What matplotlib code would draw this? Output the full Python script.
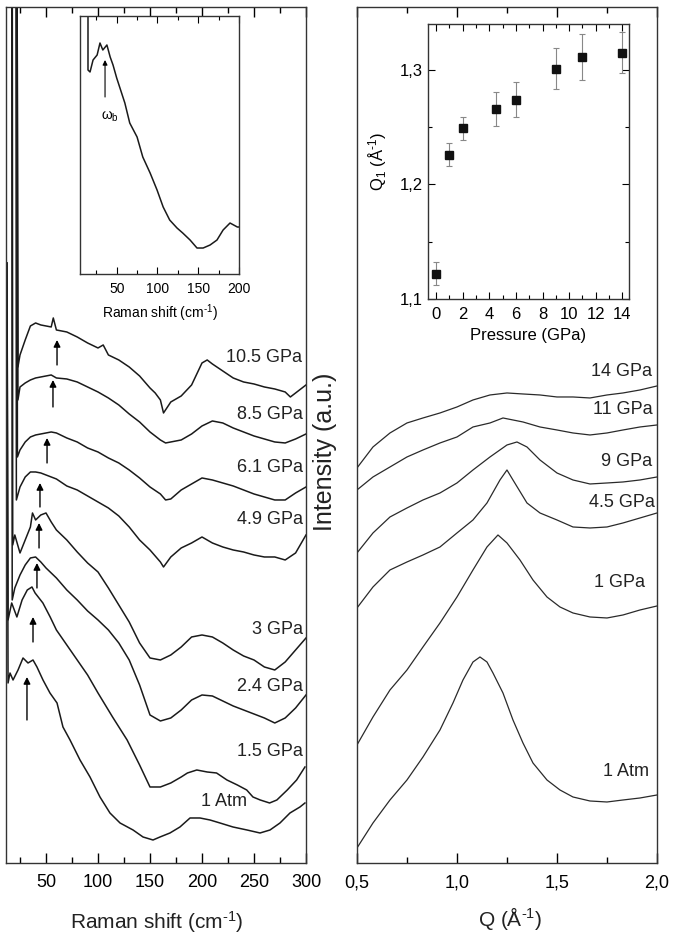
import matplotlib
matplotlib.use('Agg')
import matplotlib.pyplot as plt
from matplotlib.ticker import MultipleLocator, FuncFormatter

plt.rcParams['font.family'] = ['Liberation Sans', 'DejaVu Sans']
plt.rcParams['mathtext.fontset'] = 'custom'
plt.rcParams['mathtext.rm'] = 'Liberation Sans'
plt.rcParams['mathtext.it'] = 'Liberation Sans:italic'
plt.rcParams['mathtext.default'] = 'regular'

# ---- Raman spectra (stacked, intensity in a.u.) ----
r105_x = [22, 23, 25, 30, 35, 40, 45, 50, 55, 57, 60, 70, 80, 90, 100, 105, 110, 120, 130, 140,
          150, 155, 160, 163, 170, 180, 190, 200, 205, 210, 220, 230, 240, 250, 260, 270, 280, 285, 290, 300]
r105_y = [1000, 496, 508, 523, 537, 540, 538, 537, 536, 545, 533, 531, 526, 520, 515, 518, 508, 503, 496, 487,
          475, 470, 463, 450, 461, 467, 478, 500, 503, 499, 492, 485, 481, 479, 476, 474, 471, 466, 470, 478]

r85_x = [22, 23, 25, 30, 35, 40, 45, 50, 55, 60, 70, 80, 90, 100, 110, 120, 130, 140, 150, 160,
         165, 170, 180, 190, 200, 210, 220, 230, 240, 250, 260, 270, 280, 290, 300]
r85_y = [1000, 463, 476, 480, 483, 485, 486, 487, 488, 485, 484, 481, 476, 471, 465, 458, 449, 441, 431, 423,
         420, 421, 423, 429, 437, 442, 440, 435, 431, 427, 424, 421, 420, 424, 429]

r61_x = [22, 22.5, 25, 30, 35, 40, 45, 50, 55, 60, 70, 80, 90, 100, 110, 120, 130, 140, 150, 160,
         165, 170, 180, 190, 200, 210, 220, 230, 240, 250, 260, 270, 280, 290, 300]
r61_y = [1000, 406, 413, 421, 426, 428, 429, 430, 431, 430, 425, 421, 415, 411, 405, 400, 393, 385, 376, 369,
         363, 364, 373, 379, 385, 383, 380, 377, 373, 369, 366, 363, 363, 370, 376]

r49_x = [21, 21.5, 25, 30, 35, 40, 45, 50, 60, 70, 80, 90, 100, 110, 120, 130, 140, 150, 160, 163,
         170, 180, 190, 200, 210, 220, 230, 240, 250, 260, 270, 280, 290, 300]
r49_y = [1000, 363, 376, 386, 391, 391, 390, 388, 384, 377, 373, 367, 361, 355, 347, 336, 323, 313, 301, 296,
         306, 315, 320, 326, 320, 316, 313, 311, 308, 306, 306, 303, 310, 328]

r30_x = [17.5, 18, 20, 25, 30, 35, 37, 40, 45, 50, 55, 60, 70, 80, 90, 100, 110, 120, 130, 140,
         150, 160, 170, 180, 190, 200, 210, 220, 230, 240, 250, 260, 270, 280, 290, 300]
r30_y = [1000, 318, 328, 310, 323, 336, 350, 343, 348, 350, 341, 333, 323, 311, 300, 291, 275, 258, 241, 220,
         205, 203, 208, 216, 226, 228, 226, 220, 213, 207, 203, 196, 193, 201, 213, 225]

r24_x = [17, 17.5, 20, 25, 30, 35, 40, 45, 50, 60, 70, 80, 90, 100, 110, 120, 130, 140, 150, 160,
         170, 180, 190, 200, 210, 220, 230, 240, 250, 260, 270, 280, 290, 300]
r24_y = [1000, 263, 275, 288, 298, 305, 306, 301, 295, 285, 273, 263, 252, 243, 233, 220, 203, 178, 148, 142,
         145, 153, 163, 168, 167, 162, 157, 153, 149, 145, 140, 145, 155, 168]

r15_x = [12.5, 13.5, 17, 22, 27, 32, 36.5, 39.5, 47, 54, 60, 70, 80, 90, 100, 114, 128, 140, 150, 160,
         170, 180, 186, 195, 205, 214, 224, 234, 243, 249, 256, 265, 272, 282, 291, 299]
r15_y = [600, 243, 260, 246, 263, 273, 276, 270, 260, 246, 233, 218, 203, 188, 170, 146, 123, 98, 76, 76,
         80, 86, 90, 93, 91, 90, 83, 78, 73, 66, 63, 60, 63, 73, 83, 96]

r1atm_x = [12.5, 13.5, 15.4, 18.3, 23.1, 27.9, 32.7, 37.5, 41.3, 47.1, 53.8, 60.6, 66.3, 73.1, 82.7, 92.3,
           101.9, 111.5, 121.2, 133.7, 143.3, 152.9, 159.6, 169.2, 178.8, 188.5, 198.1, 207.7, 217.3,
           229.8, 243.3, 255.8, 265.4, 275, 284.6, 294.2, 299]
r1atm_y = [600, 180, 190, 183, 193, 205, 200, 203, 196, 183, 170, 160, 136, 123, 103, 86,
           66, 50, 40, 33, 26, 23, 26, 30, 36, 45, 45, 43, 40,
           36, 33, 30, 33, 40, 50, 56, 60]

raman_labels = ['10.5 GPa', '8.5 GPa', '6.1 GPa', '4.9 GPa', '3 GPa', '2.4 GPa', '1.5 GPa', '1 Atm']
raman_label_x = [296, 297, 297, 297, 297, 297, 297, 221]
raman_label_y = [505, 448, 395, 343, 233, 176, 111, 61]

# boson peak arrows (position, head, tail)
arrow_x = [60.6, 56.7, 51, 44.2, 43.3, 41.3, 37.5, 31.7]
arrow_head = [523, 483, 425, 380, 340, 300, 246, 186]
arrow_tail = [498, 456, 400, 356, 315, 275, 221, 143]

# ---- inset: 1 Atm low-frequency spectrum ----
ins_x = [14.8, 14.8, 17.3, 21, 26, 29.5, 33, 38, 42, 45.5, 50, 54, 60, 66, 75, 82, 91, 99.5, 107, 115,
         124, 131, 140, 148.5, 156, 164.5, 173, 180.5, 189, 198, 200]
ins_y = [300, 204, 202, 214, 219, 231, 224, 229, 217, 209, 196, 186, 171, 151, 137, 117, 101, 84, 67, 54,
         46, 41, 34, 26, 26, 29, 34, 44, 51, 47, 47]

# ---- X-ray structure factors ----
s1atm_q = [0.5, 0.58, 0.665, 0.75, 0.83, 0.915, 0.98, 1.03, 1.08, 1.115, 1.15, 1.18, 1.23, 1.28,
           1.33, 1.38, 1.45, 1.515, 1.58, 1.665, 1.75, 1.83, 1.915, 2.0]
s1atm_y = [15, 40, 63, 83, 106, 133, 160, 183, 201, 206, 201, 190, 170, 143,
           120, 100, 83, 73, 66, 62, 61, 63, 65, 68]

s1_q = [0.5, 0.58, 0.665, 0.75, 0.83, 0.915, 1.0, 1.08, 1.15, 1.205, 1.25, 1.315, 1.38, 1.45,
        1.515, 1.58, 1.665, 1.75, 1.83, 1.915, 2.0]
s1_y = [118, 146, 173, 193, 216, 240, 266, 293, 316, 328, 320, 303, 283, 266,
        256, 250, 246, 245, 248, 253, 257]

s45_q = [0.5, 0.58, 0.665, 0.75, 0.83, 0.915, 1.0, 1.08, 1.15, 1.215, 1.25, 1.28, 1.35, 1.415,
         1.5, 1.58, 1.665, 1.75, 1.83, 1.915, 2.0]
s45_y = [255, 276, 293, 301, 308, 316, 330, 343, 360, 383, 393, 383, 360, 350,
         343, 336, 335, 336, 340, 345, 350]

s9_q = [0.5, 0.58, 0.665, 0.75, 0.83, 0.915, 1.0, 1.08, 1.165, 1.25, 1.3, 1.35, 1.415, 1.5,
        1.58, 1.665, 1.75, 1.83, 1.915, 2.0]
s9_y = [310, 330, 346, 355, 363, 370, 380, 393, 406, 418, 421, 416, 403, 390,
        383, 379, 380, 381, 383, 386]

s11_q = [0.5, 0.58, 0.665, 0.75, 0.83, 0.915, 1.0, 1.08, 1.165, 1.23, 1.33, 1.415, 1.5, 1.58,
         1.665, 1.75, 1.83, 1.915, 2.0]
s11_y = [373, 386, 396, 406, 413, 420, 426, 436, 440, 445, 441, 436, 433, 430,
         428, 430, 433, 436, 438]

s14_q = [0.5, 0.58, 0.665, 0.75, 0.83, 0.915, 1.0, 1.08, 1.165, 1.25, 1.33, 1.415, 1.5, 1.58,
         1.665, 1.75, 1.83, 1.915, 2.0]
s14_y = [395, 416, 430, 440, 445, 450, 456, 463, 468, 470, 469, 468, 466, 466,
         465, 468, 470, 473, 477]

sq_labels = ['14 GPa', '11 GPa', '9 GPa', '4.5 GPa', '1 GPa', '1 Atm']
sq_label_x = [1.975, 1.98, 1.975, 1.99, 1.94, 1.96]
sq_label_y = [491, 453, 401, 360, 280, 91]

# ---- inset: first sharp diffraction peak position vs pressure ----
pressure = [0, 1, 2, 4.5, 6, 9, 11, 14]
q1 = [1.122, 1.226, 1.249, 1.266, 1.274, 1.301, 1.311, 1.315]
q1_err = [0.010, 0.010, 0.010, 0.015, 0.015, 0.018, 0.020, 0.018]

comma = FuncFormatter(lambda v, p: f'{v:.1f}'.replace('.', ','))
inv = r'$^{\text{-1}}$'

fig = plt.figure(figsize=(6.78, 9.41), dpi=100)

# left panel: Raman
ax1 = fig.add_axes([0.0088, 0.0829, 0.4425, 0.9097])
raman_x = [r105_x, r85_x, r61_x, r49_x, r30_x, r24_x, r15_x, r1atm_x]
raman_y = [r105_y, r85_y, r61_y, r49_y, r30_y, r24_y, r15_y, r1atm_y]
for xs, ys in zip(raman_x, raman_y):
    ax1.plot(xs, ys, color='#1a1a1a', lw=1.1)
for lab, lx, ly in zip(raman_labels, raman_label_x, raman_label_y):
    ax1.text(lx, ly, lab, ha='right' if lab != '1 Atm' else 'center', va='center', fontsize=13, color='#222')
for x, h, t in zip(arrow_x, arrow_head, arrow_tail):
    ax1.annotate('', xy=(x, h), xytext=(x, t),
                 arrowprops=dict(arrowstyle='-|>', color='k', lw=1, mutation_scale=10, shrinkA=0, shrinkB=0))
ax1.set_xlim(11.5, 300)
ax1.set_ylim(0, 856)
ax1.set_yticks([])
ax1.xaxis.set_major_locator(MultipleLocator(50))
ax1.xaxis.set_minor_locator(MultipleLocator(25))
ax1.tick_params(axis='x', which='both', direction='in', top=True, labelsize=13, pad=8, width=1)
ax1.tick_params(axis='x', which='major', length=7)
ax1.tick_params(axis='x', which='minor', length=4)
fig.text(0.231, 0.020, 'Raman shift (cm' + inv + ')', ha='center', va='center', fontsize=15, color='#222')

# left inset
ax1i = fig.add_axes([0.118, 0.7088, 0.2345, 0.2742])
ax1i.plot(ins_x, ins_y, color='#1a1a1a', lw=1.1)
ax1i.annotate('', xy=(35.7, 214), xytext=(35.7, 177),
              arrowprops=dict(arrowstyle='-|>', color='k', lw=0.8, mutation_scale=7, shrinkA=0, shrinkB=0))
ax1i.text(41.8, 157, r'$\omega_b$', ha='center', va='center', fontsize=10)
ax1i.set_xlim(5, 200)
ax1i.set_ylim(0, 258)
ax1i.set_yticks([])
ax1i.xaxis.set_major_locator(MultipleLocator(50))
ax1i.xaxis.set_minor_locator(MultipleLocator(25))
ax1i.tick_params(axis='x', which='both', direction='in', top=True, labelsize=10, pad=6, width=0.8)
ax1i.tick_params(axis='x', which='major', length=5)
ax1i.tick_params(axis='x', which='minor', length=3)
ax1i.set_xlabel('Raman shift (cm' + inv + ')', fontsize=10, labelpad=4)

# right panel: S(Q)
ax2 = fig.add_axes([0.5265, 0.0829, 0.4425, 0.9097])
sq_q = [s14_q, s11_q, s9_q, s45_q, s1_q, s1atm_q]
sq_y = [s14_y, s11_y, s9_y, s45_y, s1_y, s1atm_y]
for qs, ys in zip(sq_q, sq_y):
    ax2.plot(qs, ys, color='#2a2a2a', lw=0.9)
for lab, lx, ly in zip(sq_labels, sq_label_x, sq_label_y):
    ax2.text(lx, ly, lab, ha='right', va='center', fontsize=13, color='#222')
ax2.set_xlim(0.5, 2.0)
ax2.set_ylim(0, 856)
ax2.set_yticks([])
ax2.xaxis.set_major_locator(MultipleLocator(0.5))
ax2.xaxis.set_minor_locator(MultipleLocator(0.25))
ax2.xaxis.set_major_formatter(comma)
ax2.tick_params(axis='x', which='both', direction='in', top=True, labelsize=13, pad=8, width=1)
ax2.tick_params(axis='x', which='major', length=7)
ax2.tick_params(axis='x', which='minor', length=4)
fig.text(0.752, 0.024, 'Q (Å' + inv + ')', ha='center', va='center', fontsize=15, color='#222')

fig.text(0.479, 0.52, 'Intensity (a.u.)', rotation=90, ha='center', va='center', fontsize=18, color='#222')

# right inset
ax2i = fig.add_axes([0.6313, 0.6823, 0.2965, 0.2922])
ax2i.errorbar(pressure, q1, yerr=q1_err, fmt='s', color='#111', ms=6, ecolor='#888',
              elinewidth=0.8, capsize=2, capthick=0.8)
ax2i.set_xlim(-0.6, 14.5)
ax2i.set_ylim(1.1, 1.34)
ax2i.xaxis.set_major_locator(MultipleLocator(2))
ax2i.xaxis.set_minor_locator(MultipleLocator(1))
ax2i.yaxis.set_major_locator(MultipleLocator(0.1))
ax2i.yaxis.set_minor_locator(MultipleLocator(0.05))
ax2i.yaxis.set_major_formatter(comma)
ax2i.tick_params(which='both', direction='in', top=True, right=True, labelsize=12, width=0.8)
ax2i.tick_params(which='major', length=5)
ax2i.tick_params(which='minor', length=3)
ax2i.tick_params(axis='x', pad=6)
ax2i.set_xlabel('Pressure (GPa)', fontsize=12, labelpad=4)
ax2i.set_ylabel('Q$_1$ (Å' + inv + ')', fontsize=12, labelpad=8)

for a in (ax1, ax1i, ax2, ax2i):
    for s in a.spines.values():
        s.set_color('#333')
        s.set_linewidth(1)

fig.savefig('out.png', dpi=100)
